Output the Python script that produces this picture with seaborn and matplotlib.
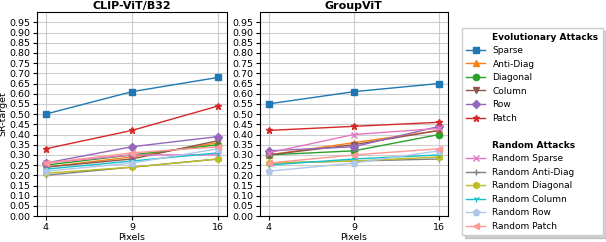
import pandas as pd
import seaborn as sns
import matplotlib.pyplot as plt
from matplotlib.lines import Line2D

pixels = ["4", "9", "16"]
models = ["CLIP-ViT/B32", "GroupViT"]

evo_names = ["Sparse", "Anti-Diag", "Diagonal", "Column", "Row", "Patch"]
rnd_names = ["Random Sparse", "Random Anti-Diag", "Random Diagonal",
             "Random Column", "Random Row", "Random Patch"]

# SR-target values, one list per attack, for 4 / 9 / 16 pixels
clip_vals = {
    "Sparse": [0.50, 0.61, 0.68],
    "Anti-Diag": [0.24, 0.29, 0.36],
    "Diagonal": [0.25, 0.30, 0.35],
    "Column": [0.24, 0.28, 0.37],
    "Row": [0.26, 0.34, 0.39],
    "Patch": [0.33, 0.42, 0.54],
    "Random Sparse": [0.26, 0.30, 0.30],
    "Random Anti-Diag": [0.20, 0.24, 0.28],
    "Random Diagonal": [0.21, 0.24, 0.28],
    "Random Column": [0.23, 0.27, 0.31],
    "Random Row": [0.22, 0.26, 0.33],
    "Random Patch": [0.26, 0.31, 0.34],
}
group_vals = {
    "Sparse": [0.55, 0.61, 0.65],
    "Anti-Diag": [0.30, 0.36, 0.42],
    "Diagonal": [0.30, 0.32, 0.40],
    "Column": [0.30, 0.35, 0.42],
    "Row": [0.32, 0.34, 0.44],
    "Patch": [0.42, 0.44, 0.46],
    "Random Sparse": [0.31, 0.40, 0.43],
    "Random Anti-Diag": [0.26, 0.27, 0.28],
    "Random Diagonal": [0.26, 0.27, 0.29],
    "Random Column": [0.25, 0.28, 0.30],
    "Random Row": [0.22, 0.26, 0.32],
    "Random Patch": [0.26, 0.30, 0.33],
}

colors = ["#1f77b4", "#ff7f0e", "#2ca02c", "#8c564b", "#9467bd", "#d62728",
          "#e377c2", "#7f7f7f", "#bcbd22", "#17becf", "#aec7e8", "#ff9896"]
markers = ["s", "^", "o", "v", "D", "*", "x", "+", "h", "1", "p", "<"]

names = evo_names + rnd_names
rows = []
for model, vals in zip(models, [clip_vals, group_vals]):
    for n in names:
        for p, v in zip(pixels, vals[n]):
            rows.append({"model": model, "attack": n, "Pixels": p, "SR": v})
df = pd.DataFrame(rows)

plt.rcParams["font.size"] = 6.8
fig = plt.figure(figsize=(6.06, 2.42), dpi=100)
ax1 = fig.add_axes([0.061, 0.107, 0.3135, 0.843])
ax2 = fig.add_axes([0.429, 0.107, 0.310, 0.843])

for ax, model in zip([ax1, ax2], models):
    sub = df[df["model"] == model]
    for n, c, m in zip(names, colors, markers):
        sns.lineplot(data=sub[sub["attack"] == n], x="Pixels", y="SR",
                     color=c, marker=m, markersize=4.5, linewidth=1,
                     markeredgecolor=c, markeredgewidth=1, ax=ax)
    ax.set_title(model, fontweight="bold", fontsize=8, pad=2)
    ax.set_ylim(0, 1.0)
    ax.set_yticks([i * 0.05 for i in range(20)])
    ax.set_yticklabels([f"{i * 0.05:.2f}" for i in range(20)])
    ax.set_xlabel("Pixels", labelpad=1)
    ax.grid(True, color="#cccccc", linewidth=0.8)
    ax.set_axisbelow(True)
    ax.tick_params(pad=2, length=3)

ax1.set_ylabel("SR-target", labelpad=1)
ax2.set_ylabel("")

blank = Line2D([], [], linestyle="none", marker="none")
handles = [blank]
labels = ["Evolutionary Attacks"]
for n, c, m in zip(evo_names, colors[:6], markers[:6]):
    handles.append(Line2D([], [], color=c, marker=m, markersize=4.5, linewidth=1))
    labels.append(n)
handles += [blank, blank]
labels += ["", "Random Attacks"]
for n, c, m in zip(rnd_names, colors[6:], markers[6:]):
    handles.append(Line2D([], [], color=c, marker=m, markersize=4.5, linewidth=1))
    labels.append(n)

leg = fig.legend(handles, labels, loc="upper left", bbox_to_anchor=(0.762, 0.884),
                 frameon=True, shadow={"alpha": 0.25}, fancybox=False, fontsize=6.5,
                 handlelength=2.1, handletextpad=0.8, labelspacing=0.5,
                 borderpad=0.5, borderaxespad=0)
for t in leg.get_texts():
    if t.get_text() in ("Evolutionary Attacks", "Random Attacks"):
        t.set_fontweight("bold")

fig.savefig("out.png", dpi=100)
